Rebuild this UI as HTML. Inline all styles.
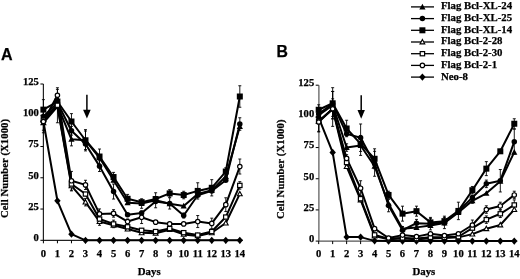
<!DOCTYPE html>
<html><head><meta charset="utf-8"><style>
html,body{margin:0;padding:0;background:#fff;}
svg{display:block;will-change:transform;}
</style></head><body>
<svg width="520" height="279" viewBox="0 0 520 279" font-family='"Liberation Serif", serif' font-weight="bold">
<style>text{stroke:#000;stroke-width:0.25px;}</style>
<rect width="520" height="279" fill="#fff"/>
<text x="1" y="60" font-family='"Liberation Sans", sans-serif' font-size="16" font-weight="bold">A</text>
<text x="276.5" y="57" font-family='"Liberation Sans", sans-serif' font-size="15.8" font-weight="bold">B</text>
<text transform="translate(8.3,218.0) rotate(-90)" font-size="10.6" textLength="99" lengthAdjust="spacing">Cell Number (X1000)</text>
<text transform="translate(284.2,219.0) rotate(-90)" font-size="10.6" textLength="99.5" lengthAdjust="spacing">Cell Number (X1000)</text>
<text x="137.8" y="275" font-size="10.8">Days</text>
<text x="412.5" y="275" font-size="10.8">Days</text>
<path d="M43.40,84.00V240.30H242.82" fill="none" stroke="#222" stroke-width="1.2"/>
<path d="M40.40,240.30H43.40" stroke="#000" stroke-width="1"/>
<text x="38.90" y="241.10" text-anchor="end" font-size="10.6">0</text>
<path d="M40.40,209.04H43.40" stroke="#000" stroke-width="1"/>
<text x="38.90" y="209.84" text-anchor="end" font-size="10.6">25</text>
<path d="M40.40,177.78H43.40" stroke="#000" stroke-width="1"/>
<text x="38.90" y="178.58" text-anchor="end" font-size="10.6">50</text>
<path d="M40.40,146.52H43.40" stroke="#000" stroke-width="1"/>
<text x="38.90" y="147.32" text-anchor="end" font-size="10.6">75</text>
<path d="M40.40,115.26H43.40" stroke="#000" stroke-width="1"/>
<text x="38.90" y="116.06" text-anchor="end" font-size="10.6">100</text>
<path d="M40.40,84.00H43.40" stroke="#000" stroke-width="1"/>
<text x="38.90" y="84.80" text-anchor="end" font-size="10.6">125</text>
<path d="M43.40,240.30V243.30" stroke="#000" stroke-width="1"/>
<text x="43.40" y="256.50" text-anchor="middle" font-size="10.6">0</text>
<path d="M57.43,240.30V243.30" stroke="#000" stroke-width="1"/>
<text x="57.43" y="256.50" text-anchor="middle" font-size="10.6">1</text>
<path d="M71.46,240.30V243.30" stroke="#000" stroke-width="1"/>
<text x="71.46" y="256.50" text-anchor="middle" font-size="10.6">2</text>
<path d="M85.49,240.30V243.30" stroke="#000" stroke-width="1"/>
<text x="85.49" y="256.50" text-anchor="middle" font-size="10.6">3</text>
<path d="M99.52,240.30V243.30" stroke="#000" stroke-width="1"/>
<text x="99.52" y="256.50" text-anchor="middle" font-size="10.6">4</text>
<path d="M113.55,240.30V243.30" stroke="#000" stroke-width="1"/>
<text x="113.55" y="256.50" text-anchor="middle" font-size="10.6">5</text>
<path d="M127.58,240.30V243.30" stroke="#000" stroke-width="1"/>
<text x="127.58" y="256.50" text-anchor="middle" font-size="10.6">6</text>
<path d="M141.61,240.30V243.30" stroke="#000" stroke-width="1"/>
<text x="141.61" y="256.50" text-anchor="middle" font-size="10.6">7</text>
<path d="M155.64,240.30V243.30" stroke="#000" stroke-width="1"/>
<text x="155.64" y="256.50" text-anchor="middle" font-size="10.6">8</text>
<path d="M169.67,240.30V243.30" stroke="#000" stroke-width="1"/>
<text x="169.67" y="256.50" text-anchor="middle" font-size="10.6">9</text>
<path d="M183.70,240.30V243.30" stroke="#000" stroke-width="1"/>
<text x="183.70" y="256.50" text-anchor="middle" font-size="10.6">10</text>
<path d="M197.73,240.30V243.30" stroke="#000" stroke-width="1"/>
<text x="197.73" y="256.50" text-anchor="middle" font-size="10.6">11</text>
<path d="M211.76,240.30V243.30" stroke="#000" stroke-width="1"/>
<text x="211.76" y="256.50" text-anchor="middle" font-size="10.6">12</text>
<path d="M225.79,240.30V243.30" stroke="#000" stroke-width="1"/>
<text x="225.79" y="256.50" text-anchor="middle" font-size="10.6">13</text>
<path d="M239.82,240.30V243.30" stroke="#000" stroke-width="1"/>
<text x="239.82" y="256.50" text-anchor="middle" font-size="10.6">14</text>
<path d="M43.40,99.63V119.64M41.90,99.63H44.90M41.90,119.64H44.90" stroke="#000" stroke-width="0.9" fill="none"/>
<path d="M43.40,109.01V124.01M41.90,109.01H44.90M41.90,124.01H44.90" stroke="#000" stroke-width="0.9" fill="none"/>
<path d="M43.40,110.26V132.77M41.90,110.26H44.90M41.90,132.77H44.90" stroke="#000" stroke-width="0.9" fill="none"/>
<path d="M43.40,110.26V130.26M41.90,110.26H44.90M41.90,130.26H44.90" stroke="#000" stroke-width="0.9" fill="none"/>
<path d="M57.43,89.38V101.13M55.93,89.38H58.93M55.93,101.13H58.93" stroke="#000" stroke-width="0.9" fill="none"/>
<path d="M57.43,87.75V122.76M55.93,87.75H58.93M55.93,122.76H58.93" stroke="#000" stroke-width="0.9" fill="none"/>
<path d="M57.43,97.75V105.26M55.93,97.75H58.93M55.93,105.26H58.93" stroke="#000" stroke-width="0.9" fill="none"/>
<path d="M71.46,113.63V129.39M69.96,113.63H72.96M69.96,129.39H72.96" stroke="#000" stroke-width="0.9" fill="none"/>
<path d="M71.46,126.39V135.14M69.96,126.39H72.96M69.96,135.14H72.96" stroke="#000" stroke-width="0.9" fill="none"/>
<path d="M71.46,132.64V145.89M69.96,132.64H72.96M69.96,145.89H72.96" stroke="#000" stroke-width="0.9" fill="none"/>
<path d="M71.46,171.40V190.16M69.96,171.40H72.96M69.96,190.16H72.96" stroke="#000" stroke-width="0.9" fill="none"/>
<path d="M71.46,180.91V190.91M69.96,180.91H72.96M69.96,190.91H72.96" stroke="#000" stroke-width="0.9" fill="none"/>
<path d="M85.49,131.02V149.52M83.99,131.02H86.99M83.99,149.52H86.99" stroke="#000" stroke-width="0.9" fill="none"/>
<path d="M85.49,129.64V150.90M83.99,129.64H86.99M83.99,150.90H86.99" stroke="#000" stroke-width="0.9" fill="none"/>
<path d="M85.49,180.28V189.53M83.99,180.28H86.99M83.99,189.53H86.99" stroke="#000" stroke-width="0.9" fill="none"/>
<path d="M85.49,198.41V205.91M83.99,198.41H86.99M83.99,205.91H86.99" stroke="#000" stroke-width="0.9" fill="none"/>
<path d="M99.52,149.02V164.03M98.02,149.02H101.02M98.02,164.03H101.02" stroke="#000" stroke-width="0.9" fill="none"/>
<path d="M99.52,160.77V171.53M98.02,160.77H101.02M98.02,171.53H101.02" stroke="#000" stroke-width="0.9" fill="none"/>
<path d="M99.52,208.91V218.92M98.02,208.91H101.02M98.02,218.92H101.02" stroke="#000" stroke-width="0.9" fill="none"/>
<path d="M99.52,217.79V225.30M98.02,217.79H101.02M98.02,225.30H101.02" stroke="#000" stroke-width="0.9" fill="none"/>
<path d="M113.55,172.40V181.66M112.05,172.40H115.05M112.05,181.66H115.05" stroke="#000" stroke-width="0.9" fill="none"/>
<path d="M113.55,184.03V199.04M112.05,184.03H115.05M112.05,199.04H115.05" stroke="#000" stroke-width="0.9" fill="none"/>
<path d="M113.55,209.67V217.17M112.05,209.67H115.05M112.05,217.17H115.05" stroke="#000" stroke-width="0.9" fill="none"/>
<path d="M113.55,220.17V227.67M112.05,220.17H115.05M112.05,227.67H115.05" stroke="#000" stroke-width="0.9" fill="none"/>
<path d="M127.58,194.41V203.16M126.08,194.41H129.08M126.08,203.16H129.08" stroke="#000" stroke-width="0.9" fill="none"/>
<path d="M127.58,219.04V224.04M126.08,219.04H129.08M126.08,224.04H129.08" stroke="#000" stroke-width="0.9" fill="none"/>
<path d="M141.61,198.79V208.29M140.11,198.79H143.11M140.11,208.29H143.11" stroke="#000" stroke-width="0.9" fill="none"/>
<path d="M141.61,211.04V223.54M140.11,211.04H143.11M140.11,223.54H143.11" stroke="#000" stroke-width="0.9" fill="none"/>
<path d="M155.64,196.54V201.54M154.14,196.54H157.14M154.14,201.54H157.14" stroke="#000" stroke-width="0.9" fill="none"/>
<path d="M155.64,192.78V207.79M154.14,192.78H157.14M154.14,207.79H157.14" stroke="#000" stroke-width="0.9" fill="none"/>
<path d="M169.67,189.66V197.16M168.17,189.66H171.17M168.17,197.16H171.17" stroke="#000" stroke-width="0.9" fill="none"/>
<path d="M169.67,197.79V209.04M168.17,197.79H171.17M168.17,209.04H171.17" stroke="#000" stroke-width="0.9" fill="none"/>
<path d="M183.70,191.28V198.79M182.20,191.28H185.20M182.20,198.79H185.20" stroke="#000" stroke-width="0.9" fill="none"/>
<path d="M183.70,213.04V218.04M182.20,213.04H185.20M182.20,218.04H185.20" stroke="#000" stroke-width="0.9" fill="none"/>
<path d="M197.73,182.78V199.04M196.23,182.78H199.23M196.23,199.04H199.23" stroke="#000" stroke-width="0.9" fill="none"/>
<path d="M197.73,215.54V227.55M196.23,215.54H199.23M196.23,227.55H199.23" stroke="#000" stroke-width="0.9" fill="none"/>
<path d="M211.76,179.66V195.91M210.26,179.66H213.26M210.26,195.91H213.26" stroke="#000" stroke-width="0.9" fill="none"/>
<path d="M211.76,218.17V228.67M210.26,218.17H213.26M210.26,228.67H213.26" stroke="#000" stroke-width="0.9" fill="none"/>
<path d="M225.79,197.79V211.54M224.29,197.79H227.29M224.29,211.54H227.29" stroke="#000" stroke-width="0.9" fill="none"/>
<path d="M225.79,167.78V175.28M224.29,167.78H227.29M224.29,175.28H227.29" stroke="#000" stroke-width="0.9" fill="none"/>
<path d="M239.82,85.75V107.26M238.32,85.75H241.32M238.32,107.26H241.32" stroke="#000" stroke-width="0.9" fill="none"/>
<path d="M239.82,117.76V130.26M238.32,117.76H241.32M238.32,130.26H241.32" stroke="#000" stroke-width="0.9" fill="none"/>
<path d="M239.82,159.02V174.03M238.32,159.02H241.32M238.32,174.03H241.32" stroke="#000" stroke-width="0.9" fill="none"/>
<path d="M239.82,181.66V189.16M238.32,181.66H241.32M238.32,189.16H241.32" stroke="#000" stroke-width="0.9" fill="none"/>
<polyline points="43.40,121.51 57.43,200.79 71.46,234.17 85.49,240.30 99.52,240.30 113.55,240.30 127.58,240.30 141.61,240.30 155.64,240.30 169.67,240.30 183.70,240.30 197.73,240.30 211.76,240.30 225.79,240.30 239.82,240.30" fill="none" stroke="#000" stroke-width="2.0" stroke-linejoin="round"/>
<polyline points="43.40,122.76 57.43,106.51 71.46,185.91 85.49,202.16 99.52,221.54 113.55,225.30 127.58,229.05 141.61,232.80 155.64,233.30 169.67,229.67 183.70,234.42 197.73,235.92 211.76,232.80 225.79,223.04 239.82,193.91" fill="none" stroke="#000" stroke-width="2.0" stroke-linejoin="round"/>
<polyline points="43.40,120.26 57.43,105.26 71.46,184.03 85.49,194.04 99.52,219.04 113.55,223.92 127.58,226.80 141.61,230.30 155.64,231.55 169.67,228.55 183.70,232.67 197.73,235.05 211.76,231.55 225.79,217.04 239.82,185.41" fill="none" stroke="#000" stroke-width="2.0" stroke-linejoin="round"/>
<polyline points="43.40,121.51 57.43,95.25 71.46,180.78 85.49,184.91 99.52,213.92 113.55,213.42 127.58,221.54 141.61,217.29 155.64,222.17 169.67,223.92 183.70,223.92 197.73,221.54 211.76,223.42 225.79,204.66 239.82,166.53" fill="none" stroke="#000" stroke-width="2.0" stroke-linejoin="round"/>
<polyline points="43.40,119.01 57.43,105.26 71.46,139.27 85.49,140.27 99.52,157.77 113.55,180.28 127.58,202.79 141.61,203.54 155.64,200.29 169.67,203.66 183.70,206.04 197.73,194.04 211.76,190.28 225.79,176.53 239.82,126.51" fill="none" stroke="#000" stroke-width="2.0" stroke-linejoin="round"/>
<polyline points="43.40,116.51 57.43,102.76 71.46,130.76 85.49,144.02 99.52,166.15 113.55,191.53 127.58,214.67 141.61,213.04 155.64,201.54 169.67,203.41 183.70,215.54 197.73,195.29 211.76,190.91 225.79,180.28 239.82,124.01" fill="none" stroke="#000" stroke-width="2.0" stroke-linejoin="round"/>
<polyline points="43.40,109.63 57.43,101.51 71.46,121.51 85.49,140.27 99.52,156.52 113.55,177.03 127.58,198.79 141.61,202.16 155.64,199.04 169.67,193.41 183.70,195.04 197.73,190.91 211.76,187.78 225.79,171.53 239.82,96.50" fill="none" stroke="#000" stroke-width="2.0" stroke-linejoin="round"/>
<path d="M43.40,117.91L46.60,121.51L43.40,125.11L40.20,121.51Z" fill="#000"/>
<path d="M57.43,197.19L60.63,200.79L57.43,204.39L54.23,200.79Z" fill="#000"/>
<path d="M71.46,230.57L74.66,234.17L71.46,237.77L68.26,234.17Z" fill="#000"/>
<path d="M85.49,236.70L88.69,240.30L85.49,243.90L82.29,240.30Z" fill="#000"/>
<path d="M99.52,236.70L102.72,240.30L99.52,243.90L96.32,240.30Z" fill="#000"/>
<path d="M113.55,236.70L116.75,240.30L113.55,243.90L110.35,240.30Z" fill="#000"/>
<path d="M127.58,236.70L130.78,240.30L127.58,243.90L124.38,240.30Z" fill="#000"/>
<path d="M141.61,236.70L144.81,240.30L141.61,243.90L138.41,240.30Z" fill="#000"/>
<path d="M155.64,236.70L158.84,240.30L155.64,243.90L152.44,240.30Z" fill="#000"/>
<path d="M169.67,236.70L172.87,240.30L169.67,243.90L166.47,240.30Z" fill="#000"/>
<path d="M183.70,236.70L186.90,240.30L183.70,243.90L180.50,240.30Z" fill="#000"/>
<path d="M197.73,236.70L200.93,240.30L197.73,243.90L194.53,240.30Z" fill="#000"/>
<path d="M211.76,236.70L214.96,240.30L211.76,243.90L208.56,240.30Z" fill="#000"/>
<path d="M225.79,236.70L228.99,240.30L225.79,243.90L222.59,240.30Z" fill="#000"/>
<path d="M239.82,236.70L243.02,240.30L239.82,243.90L236.62,240.30Z" fill="#000"/>
<path d="M43.40,115.81L46.50,121.51L40.30,121.51Z" fill="#000"/>
<path d="M57.43,102.06L60.53,107.76L54.33,107.76Z" fill="#000"/>
<path d="M71.46,136.07L74.56,141.77L68.36,141.77Z" fill="#000"/>
<path d="M85.49,137.07L88.59,142.77L82.39,142.77Z" fill="#000"/>
<path d="M99.52,154.57L102.62,160.27L96.42,160.27Z" fill="#000"/>
<path d="M113.55,177.08L116.65,182.78L110.45,182.78Z" fill="#000"/>
<path d="M127.58,199.59L130.68,205.29L124.48,205.29Z" fill="#000"/>
<path d="M141.61,200.34L144.71,206.04L138.51,206.04Z" fill="#000"/>
<path d="M155.64,197.09L158.74,202.79L152.54,202.79Z" fill="#000"/>
<path d="M169.67,200.46L172.77,206.16L166.57,206.16Z" fill="#000"/>
<path d="M183.70,202.84L186.80,208.54L180.60,208.54Z" fill="#000"/>
<path d="M197.73,190.84L200.83,196.54L194.63,196.54Z" fill="#000"/>
<path d="M211.76,187.08L214.86,192.78L208.66,192.78Z" fill="#000"/>
<path d="M225.79,173.33L228.89,179.03L222.69,179.03Z" fill="#000"/>
<path d="M239.82,123.31L242.92,129.01L236.72,129.01Z" fill="#000"/>
<circle cx="43.40" cy="116.51" r="2.75" fill="#000"/>
<circle cx="57.43" cy="102.76" r="2.75" fill="#000"/>
<circle cx="71.46" cy="130.76" r="2.75" fill="#000"/>
<circle cx="85.49" cy="144.02" r="2.75" fill="#000"/>
<circle cx="99.52" cy="166.15" r="2.75" fill="#000"/>
<circle cx="113.55" cy="191.53" r="2.75" fill="#000"/>
<circle cx="127.58" cy="214.67" r="2.75" fill="#000"/>
<circle cx="141.61" cy="213.04" r="2.75" fill="#000"/>
<circle cx="155.64" cy="201.54" r="2.75" fill="#000"/>
<circle cx="169.67" cy="203.41" r="2.75" fill="#000"/>
<circle cx="183.70" cy="215.54" r="2.75" fill="#000"/>
<circle cx="197.73" cy="195.29" r="2.75" fill="#000"/>
<circle cx="211.76" cy="190.91" r="2.75" fill="#000"/>
<circle cx="225.79" cy="180.28" r="2.75" fill="#000"/>
<circle cx="239.82" cy="124.01" r="2.75" fill="#000"/>
<rect x="40.40" y="106.63" width="6" height="6" fill="#000"/>
<rect x="54.43" y="98.51" width="6" height="6" fill="#000"/>
<rect x="68.46" y="118.51" width="6" height="6" fill="#000"/>
<rect x="82.49" y="137.27" width="6" height="6" fill="#000"/>
<rect x="96.52" y="153.52" width="6" height="6" fill="#000"/>
<rect x="110.55" y="174.03" width="6" height="6" fill="#000"/>
<rect x="124.58" y="195.79" width="6" height="6" fill="#000"/>
<rect x="138.61" y="199.16" width="6" height="6" fill="#000"/>
<rect x="152.64" y="196.04" width="6" height="6" fill="#000"/>
<rect x="166.67" y="190.41" width="6" height="6" fill="#000"/>
<rect x="180.70" y="192.04" width="6" height="6" fill="#000"/>
<rect x="194.73" y="187.91" width="6" height="6" fill="#000"/>
<rect x="208.76" y="184.78" width="6" height="6" fill="#000"/>
<rect x="222.79" y="168.53" width="6" height="6" fill="#000"/>
<rect x="236.82" y="93.50" width="6" height="6" fill="#000"/>
<path d="M43.40,120.26L45.80,124.66L41.00,124.66Z" fill="#fff" stroke="#000" stroke-width="1.1" stroke-linejoin="miter"/>
<path d="M57.43,104.01L59.83,108.41L55.03,108.41Z" fill="#fff" stroke="#000" stroke-width="1.1" stroke-linejoin="miter"/>
<path d="M71.46,183.41L73.86,187.81L69.06,187.81Z" fill="#fff" stroke="#000" stroke-width="1.1" stroke-linejoin="miter"/>
<path d="M85.49,199.66L87.89,204.06L83.09,204.06Z" fill="#fff" stroke="#000" stroke-width="1.1" stroke-linejoin="miter"/>
<path d="M99.52,219.04L101.92,223.44L97.12,223.44Z" fill="#fff" stroke="#000" stroke-width="1.1" stroke-linejoin="miter"/>
<path d="M113.55,222.80L115.95,227.20L111.15,227.20Z" fill="#fff" stroke="#000" stroke-width="1.1" stroke-linejoin="miter"/>
<path d="M127.58,226.55L129.98,230.95L125.18,230.95Z" fill="#fff" stroke="#000" stroke-width="1.1" stroke-linejoin="miter"/>
<path d="M141.61,230.30L144.01,234.70L139.21,234.70Z" fill="#fff" stroke="#000" stroke-width="1.1" stroke-linejoin="miter"/>
<path d="M155.64,230.80L158.04,235.20L153.24,235.20Z" fill="#fff" stroke="#000" stroke-width="1.1" stroke-linejoin="miter"/>
<path d="M169.67,227.17L172.07,231.57L167.27,231.57Z" fill="#fff" stroke="#000" stroke-width="1.1" stroke-linejoin="miter"/>
<path d="M183.70,231.92L186.10,236.32L181.30,236.32Z" fill="#fff" stroke="#000" stroke-width="1.1" stroke-linejoin="miter"/>
<path d="M197.73,233.42L200.13,237.82L195.33,237.82Z" fill="#fff" stroke="#000" stroke-width="1.1" stroke-linejoin="miter"/>
<path d="M211.76,230.30L214.16,234.70L209.36,234.70Z" fill="#fff" stroke="#000" stroke-width="1.1" stroke-linejoin="miter"/>
<path d="M225.79,220.54L228.19,224.94L223.39,224.94Z" fill="#fff" stroke="#000" stroke-width="1.1" stroke-linejoin="miter"/>
<path d="M239.82,191.41L242.22,195.81L237.42,195.81Z" fill="#fff" stroke="#000" stroke-width="1.1" stroke-linejoin="miter"/>
<rect x="41.20" y="118.16" width="4.4" height="4.2" fill="#fff" stroke="#000" stroke-width="1.2"/>
<rect x="55.23" y="103.16" width="4.4" height="4.2" fill="#fff" stroke="#000" stroke-width="1.2"/>
<rect x="69.26" y="181.93" width="4.4" height="4.2" fill="#fff" stroke="#000" stroke-width="1.2"/>
<rect x="83.29" y="191.94" width="4.4" height="4.2" fill="#fff" stroke="#000" stroke-width="1.2"/>
<rect x="97.32" y="216.94" width="4.4" height="4.2" fill="#fff" stroke="#000" stroke-width="1.2"/>
<rect x="111.35" y="221.82" width="4.4" height="4.2" fill="#fff" stroke="#000" stroke-width="1.2"/>
<rect x="125.38" y="224.70" width="4.4" height="4.2" fill="#fff" stroke="#000" stroke-width="1.2"/>
<rect x="139.41" y="228.20" width="4.4" height="4.2" fill="#fff" stroke="#000" stroke-width="1.2"/>
<rect x="153.44" y="229.45" width="4.4" height="4.2" fill="#fff" stroke="#000" stroke-width="1.2"/>
<rect x="167.47" y="226.45" width="4.4" height="4.2" fill="#fff" stroke="#000" stroke-width="1.2"/>
<rect x="181.50" y="230.57" width="4.4" height="4.2" fill="#fff" stroke="#000" stroke-width="1.2"/>
<rect x="195.53" y="232.95" width="4.4" height="4.2" fill="#fff" stroke="#000" stroke-width="1.2"/>
<rect x="209.56" y="229.45" width="4.4" height="4.2" fill="#fff" stroke="#000" stroke-width="1.2"/>
<rect x="223.59" y="214.94" width="4.4" height="4.2" fill="#fff" stroke="#000" stroke-width="1.2"/>
<rect x="237.62" y="183.31" width="4.4" height="4.2" fill="#fff" stroke="#000" stroke-width="1.2"/>
<circle cx="43.40" cy="121.51" r="2.2" fill="#fff" stroke="#000" stroke-width="1.2"/>
<circle cx="57.43" cy="95.25" r="2.2" fill="#fff" stroke="#000" stroke-width="1.2"/>
<circle cx="71.46" cy="180.78" r="2.2" fill="#fff" stroke="#000" stroke-width="1.2"/>
<circle cx="85.49" cy="184.91" r="2.2" fill="#fff" stroke="#000" stroke-width="1.2"/>
<circle cx="99.52" cy="213.92" r="2.2" fill="#fff" stroke="#000" stroke-width="1.2"/>
<circle cx="113.55" cy="213.42" r="2.2" fill="#fff" stroke="#000" stroke-width="1.2"/>
<circle cx="127.58" cy="221.54" r="2.2" fill="#fff" stroke="#000" stroke-width="1.2"/>
<circle cx="141.61" cy="217.29" r="2.2" fill="#fff" stroke="#000" stroke-width="1.2"/>
<circle cx="155.64" cy="222.17" r="2.2" fill="#fff" stroke="#000" stroke-width="1.2"/>
<circle cx="169.67" cy="223.92" r="2.2" fill="#fff" stroke="#000" stroke-width="1.2"/>
<circle cx="183.70" cy="223.92" r="2.2" fill="#fff" stroke="#000" stroke-width="1.2"/>
<circle cx="197.73" cy="221.54" r="2.2" fill="#fff" stroke="#000" stroke-width="1.2"/>
<circle cx="211.76" cy="223.42" r="2.2" fill="#fff" stroke="#000" stroke-width="1.2"/>
<circle cx="225.79" cy="204.66" r="2.2" fill="#fff" stroke="#000" stroke-width="1.2"/>
<circle cx="239.82" cy="166.53" r="2.2" fill="#fff" stroke="#000" stroke-width="1.2"/>
<path d="M318.90,85.20V241.10H517.28" fill="none" stroke="#555" stroke-width="1.2"/>
<path d="M315.70,241.10H318.70" stroke="#000" stroke-width="1"/>
<text x="314.20" y="241.90" text-anchor="end" font-size="10.6">0</text>
<path d="M315.70,209.92H318.70" stroke="#000" stroke-width="1"/>
<text x="314.20" y="210.72" text-anchor="end" font-size="10.6">25</text>
<path d="M315.70,178.74H318.70" stroke="#000" stroke-width="1"/>
<text x="314.20" y="179.54" text-anchor="end" font-size="10.6">50</text>
<path d="M315.70,147.56H318.70" stroke="#000" stroke-width="1"/>
<text x="314.20" y="148.36" text-anchor="end" font-size="10.6">75</text>
<path d="M315.70,116.38H318.70" stroke="#000" stroke-width="1"/>
<text x="314.20" y="117.18" text-anchor="end" font-size="10.6">100</text>
<path d="M315.70,85.20H318.70" stroke="#000" stroke-width="1"/>
<text x="314.20" y="86.00" text-anchor="end" font-size="10.6">125</text>
<path d="M318.70,241.10V244.10" stroke="#000" stroke-width="1"/>
<text x="318.70" y="257.30" text-anchor="middle" font-size="10.6">0</text>
<path d="M332.67,241.10V244.10" stroke="#000" stroke-width="1"/>
<text x="332.67" y="257.30" text-anchor="middle" font-size="10.6">1</text>
<path d="M346.64,241.10V244.10" stroke="#000" stroke-width="1"/>
<text x="346.64" y="257.30" text-anchor="middle" font-size="10.6">2</text>
<path d="M360.61,241.10V244.10" stroke="#000" stroke-width="1"/>
<text x="360.61" y="257.30" text-anchor="middle" font-size="10.6">3</text>
<path d="M374.58,241.10V244.10" stroke="#000" stroke-width="1"/>
<text x="374.58" y="257.30" text-anchor="middle" font-size="10.6">4</text>
<path d="M388.55,241.10V244.10" stroke="#000" stroke-width="1"/>
<text x="388.55" y="257.30" text-anchor="middle" font-size="10.6">5</text>
<path d="M402.52,241.10V244.10" stroke="#000" stroke-width="1"/>
<text x="402.52" y="257.30" text-anchor="middle" font-size="10.6">6</text>
<path d="M416.49,241.10V244.10" stroke="#000" stroke-width="1"/>
<text x="416.49" y="257.30" text-anchor="middle" font-size="10.6">7</text>
<path d="M430.46,241.10V244.10" stroke="#000" stroke-width="1"/>
<text x="430.46" y="257.30" text-anchor="middle" font-size="10.6">8</text>
<path d="M444.43,241.10V244.10" stroke="#000" stroke-width="1"/>
<text x="444.43" y="257.30" text-anchor="middle" font-size="10.6">9</text>
<path d="M458.40,241.10V244.10" stroke="#000" stroke-width="1"/>
<text x="458.40" y="257.30" text-anchor="middle" font-size="10.6">10</text>
<path d="M472.37,241.10V244.10" stroke="#000" stroke-width="1"/>
<text x="472.37" y="257.30" text-anchor="middle" font-size="10.6">11</text>
<path d="M486.34,241.10V244.10" stroke="#000" stroke-width="1"/>
<text x="486.34" y="257.30" text-anchor="middle" font-size="10.6">12</text>
<path d="M500.31,241.10V244.10" stroke="#000" stroke-width="1"/>
<text x="500.31" y="257.30" text-anchor="middle" font-size="10.6">13</text>
<path d="M514.28,241.10V244.10" stroke="#000" stroke-width="1"/>
<text x="514.28" y="257.30" text-anchor="middle" font-size="10.6">14</text>
<path d="M318.70,104.78V114.76M317.20,104.78H320.20M317.20,114.76H320.20" stroke="#000" stroke-width="0.9" fill="none"/>
<path d="M318.70,107.65V120.12M317.20,107.65H320.20M317.20,120.12H320.20" stroke="#000" stroke-width="0.9" fill="none"/>
<path d="M318.70,112.01V131.97M317.20,112.01H320.20M317.20,131.97H320.20" stroke="#000" stroke-width="0.9" fill="none"/>
<path d="M318.70,111.39V131.35M317.20,111.39H320.20M317.20,131.35H320.20" stroke="#000" stroke-width="0.9" fill="none"/>
<path d="M332.67,87.69V118.87M331.17,87.69H334.17M331.17,118.87H334.17" stroke="#000" stroke-width="0.9" fill="none"/>
<path d="M332.67,91.44V116.38M331.17,91.44H334.17M331.17,116.38H334.17" stroke="#000" stroke-width="0.9" fill="none"/>
<path d="M332.67,98.79V118.75M331.17,98.79H334.17M331.17,118.75H334.17" stroke="#000" stroke-width="0.9" fill="none"/>
<path d="M332.67,91.44V126.36M331.17,91.44H334.17M331.17,126.36H334.17" stroke="#000" stroke-width="0.9" fill="none"/>
<path d="M346.64,120.25V136.71M345.14,120.25H348.14M345.14,136.71H348.14" stroke="#000" stroke-width="0.9" fill="none"/>
<path d="M346.64,154.67V162.15M345.14,154.67H348.14M345.14,162.15H348.14" stroke="#000" stroke-width="0.9" fill="none"/>
<path d="M346.64,143.82V151.30M345.14,143.82H348.14M345.14,151.30H348.14" stroke="#000" stroke-width="0.9" fill="none"/>
<path d="M360.61,123.99V151.43M359.11,123.99H362.11M359.11,151.43H362.11" stroke="#000" stroke-width="0.9" fill="none"/>
<path d="M360.61,135.46V155.42M359.11,135.46H362.11M359.11,155.42H362.11" stroke="#000" stroke-width="0.9" fill="none"/>
<path d="M360.61,180.74V195.70M359.11,180.74H362.11M359.11,195.70H362.11" stroke="#000" stroke-width="0.9" fill="none"/>
<path d="M374.58,148.81V168.76M373.08,148.81H376.08M373.08,168.76H376.08" stroke="#000" stroke-width="0.9" fill="none"/>
<path d="M374.58,151.30V176.25M373.08,151.30H376.08M373.08,176.25H376.08" stroke="#000" stroke-width="0.9" fill="none"/>
<path d="M388.55,191.21V198.70M387.05,191.21H390.05M387.05,198.70H390.05" stroke="#000" stroke-width="0.9" fill="none"/>
<path d="M388.55,199.32V211.79M387.05,199.32H390.05M387.05,211.79H390.05" stroke="#000" stroke-width="0.9" fill="none"/>
<path d="M402.52,206.18V221.14M401.02,206.18H404.02M401.02,221.14H404.02" stroke="#000" stroke-width="0.9" fill="none"/>
<path d="M402.52,226.51V233.99M401.02,226.51H404.02M401.02,233.99H404.02" stroke="#000" stroke-width="0.9" fill="none"/>
<path d="M416.49,206.18V216.16M414.99,206.18H417.99M414.99,216.16H417.99" stroke="#000" stroke-width="0.9" fill="none"/>
<path d="M416.49,219.40V226.88M414.99,219.40H417.99M414.99,226.88H417.99" stroke="#000" stroke-width="0.9" fill="none"/>
<path d="M430.46,218.65V226.13M428.96,218.65H431.96M428.96,226.13H431.96" stroke="#000" stroke-width="0.9" fill="none"/>
<path d="M430.46,217.40V229.88M428.96,217.40H431.96M428.96,229.88H431.96" stroke="#000" stroke-width="0.9" fill="none"/>
<path d="M444.43,216.16V228.63M442.93,216.16H445.93M442.93,228.63H445.93" stroke="#000" stroke-width="0.9" fill="none"/>
<path d="M444.43,217.40V224.89M442.93,217.40H445.93M442.93,224.89H445.93" stroke="#000" stroke-width="0.9" fill="none"/>
<path d="M458.40,202.19V219.65M456.90,202.19H459.90M456.90,219.65H459.90" stroke="#000" stroke-width="0.9" fill="none"/>
<path d="M472.37,186.47V193.96M470.87,186.47H473.87M470.87,193.96H473.87" stroke="#000" stroke-width="0.9" fill="none"/>
<path d="M472.37,198.32V203.31M470.87,198.32H473.87M470.87,203.31H473.87" stroke="#000" stroke-width="0.9" fill="none"/>
<path d="M486.34,161.65V175.62M484.84,161.65H487.84M484.84,175.62H487.84" stroke="#000" stroke-width="0.9" fill="none"/>
<path d="M486.34,180.11V187.60M484.84,180.11H487.84M484.84,187.60H487.84" stroke="#000" stroke-width="0.9" fill="none"/>
<path d="M500.31,169.51V191.96M498.81,169.51H501.81M498.81,191.96H501.81" stroke="#000" stroke-width="0.9" fill="none"/>
<path d="M500.31,210.04V217.53M498.81,210.04H501.81M498.81,217.53H501.81" stroke="#000" stroke-width="0.9" fill="none"/>
<path d="M500.31,202.19V209.67M498.81,202.19H501.81M498.81,209.67H501.81" stroke="#000" stroke-width="0.9" fill="none"/>
<path d="M472.37,220.02V230.00M470.87,220.02H473.87M470.87,230.00H473.87" stroke="#000" stroke-width="0.9" fill="none"/>
<path d="M486.34,215.91V223.39M484.84,215.91H487.84M484.84,223.39H487.84" stroke="#000" stroke-width="0.9" fill="none"/>
<path d="M486.34,205.80V213.29M484.84,205.80H487.84M484.84,213.29H487.84" stroke="#000" stroke-width="0.9" fill="none"/>
<path d="M514.28,118.75V128.73M512.78,118.75H515.78M512.78,128.73H515.78" stroke="#000" stroke-width="0.9" fill="none"/>
<path d="M514.28,129.23V154.17M512.78,129.23H515.78M512.78,154.17H515.78" stroke="#000" stroke-width="0.9" fill="none"/>
<path d="M514.28,191.21V198.70M512.78,191.21H515.78M512.78,198.70H515.78" stroke="#000" stroke-width="0.9" fill="none"/>
<path d="M514.28,199.94V209.92M512.78,199.94H515.78M512.78,209.92H515.78" stroke="#000" stroke-width="0.9" fill="none"/>
<polyline points="318.70,117.63 332.67,152.42 346.64,237.11 360.61,237.11 374.58,240.85 388.55,241.10 402.52,241.10 416.49,241.10 430.46,241.10 444.43,241.10 458.40,241.10 472.37,241.10 486.34,241.10 500.31,241.10 514.28,241.10" fill="none" stroke="#000" stroke-width="2.0" stroke-linejoin="round"/>
<polyline points="318.70,121.37 332.67,108.90 346.64,166.64 360.61,199.94 374.58,236.11 388.55,239.23 402.52,238.61 416.49,239.23 430.46,238.61 444.43,237.98 458.40,237.36 472.37,234.12 486.34,228.75 500.31,225.01 514.28,209.55" fill="none" stroke="#000" stroke-width="2.0" stroke-linejoin="round"/>
<polyline points="318.70,121.37 332.67,108.90 346.64,162.53 360.61,198.70 374.58,234.86 388.55,238.61 402.52,237.98 416.49,238.61 430.46,237.36 444.43,237.36 458.40,236.73 472.37,228.13 486.34,219.65 500.31,213.79 514.28,204.93" fill="none" stroke="#000" stroke-width="2.0" stroke-linejoin="round"/>
<polyline points="318.70,121.99 332.67,108.77 346.64,158.41 360.61,188.22 374.58,228.63 388.55,237.98 402.52,235.11 416.49,236.61 430.46,233.74 444.43,235.61 458.40,233.74 472.37,225.01 486.34,209.55 500.31,205.93 514.28,194.95" fill="none" stroke="#000" stroke-width="2.0" stroke-linejoin="round"/>
<polyline points="318.70,115.13 332.67,105.16 346.64,147.56 360.61,145.44 374.58,166.27 388.55,203.68 402.52,228.63 416.49,227.38 430.46,225.51 444.43,223.02 458.40,212.41 472.37,200.82 486.34,193.33 500.31,181.23 514.28,152.17" fill="none" stroke="#000" stroke-width="2.0" stroke-linejoin="round"/>
<polyline points="318.70,113.89 332.67,103.91 346.64,133.84 360.61,137.71 374.58,163.77 388.55,205.55 402.52,230.25 416.49,223.14 430.46,223.64 444.43,222.39 458.40,211.17 472.37,197.45 486.34,183.85 500.31,180.74 514.28,141.70" fill="none" stroke="#000" stroke-width="2.0" stroke-linejoin="round"/>
<polyline points="318.70,109.77 332.67,103.28 346.64,128.48 360.61,143.82 374.58,158.78 388.55,194.95 402.52,213.66 416.49,211.17 430.46,222.39 444.43,221.14 458.40,210.92 472.37,190.21 486.34,168.64 500.31,151.30 514.28,123.74" fill="none" stroke="#000" stroke-width="2.0" stroke-linejoin="round"/>
<path d="M318.70,114.03L321.90,117.63L318.70,121.23L315.50,117.63Z" fill="#000"/>
<path d="M332.67,148.82L335.87,152.42L332.67,156.02L329.47,152.42Z" fill="#000"/>
<path d="M346.64,233.51L349.84,237.11L346.64,240.71L343.44,237.11Z" fill="#000"/>
<path d="M360.61,233.51L363.81,237.11L360.61,240.71L357.41,237.11Z" fill="#000"/>
<path d="M374.58,237.25L377.78,240.85L374.58,244.45L371.38,240.85Z" fill="#000"/>
<path d="M388.55,237.50L391.75,241.10L388.55,244.70L385.35,241.10Z" fill="#000"/>
<path d="M402.52,237.50L405.72,241.10L402.52,244.70L399.32,241.10Z" fill="#000"/>
<path d="M416.49,237.50L419.69,241.10L416.49,244.70L413.29,241.10Z" fill="#000"/>
<path d="M430.46,237.50L433.66,241.10L430.46,244.70L427.26,241.10Z" fill="#000"/>
<path d="M444.43,237.50L447.63,241.10L444.43,244.70L441.23,241.10Z" fill="#000"/>
<path d="M458.40,237.50L461.60,241.10L458.40,244.70L455.20,241.10Z" fill="#000"/>
<path d="M472.37,237.50L475.57,241.10L472.37,244.70L469.17,241.10Z" fill="#000"/>
<path d="M486.34,237.50L489.54,241.10L486.34,244.70L483.14,241.10Z" fill="#000"/>
<path d="M500.31,237.50L503.51,241.10L500.31,244.70L497.11,241.10Z" fill="#000"/>
<path d="M514.28,237.50L517.48,241.10L514.28,244.70L511.08,241.10Z" fill="#000"/>
<path d="M318.70,111.93L321.80,117.63L315.60,117.63Z" fill="#000"/>
<path d="M332.67,101.96L335.77,107.66L329.57,107.66Z" fill="#000"/>
<path d="M346.64,144.36L349.74,150.06L343.54,150.06Z" fill="#000"/>
<path d="M360.61,142.24L363.71,147.94L357.51,147.94Z" fill="#000"/>
<path d="M374.58,163.07L377.68,168.77L371.48,168.77Z" fill="#000"/>
<path d="M388.55,200.48L391.65,206.18L385.45,206.18Z" fill="#000"/>
<path d="M402.52,225.43L405.62,231.13L399.42,231.13Z" fill="#000"/>
<path d="M416.49,224.18L419.59,229.88L413.39,229.88Z" fill="#000"/>
<path d="M430.46,222.31L433.56,228.01L427.36,228.01Z" fill="#000"/>
<path d="M444.43,219.82L447.53,225.52L441.33,225.52Z" fill="#000"/>
<path d="M458.40,209.21L461.50,214.91L455.30,214.91Z" fill="#000"/>
<path d="M472.37,197.62L475.47,203.32L469.27,203.32Z" fill="#000"/>
<path d="M486.34,190.13L489.44,195.83L483.24,195.83Z" fill="#000"/>
<path d="M500.31,178.03L503.41,183.73L497.21,183.73Z" fill="#000"/>
<path d="M514.28,148.97L517.38,154.67L511.18,154.67Z" fill="#000"/>
<circle cx="318.70" cy="113.89" r="2.75" fill="#000"/>
<circle cx="332.67" cy="103.91" r="2.75" fill="#000"/>
<circle cx="346.64" cy="133.84" r="2.75" fill="#000"/>
<circle cx="360.61" cy="137.71" r="2.75" fill="#000"/>
<circle cx="374.58" cy="163.77" r="2.75" fill="#000"/>
<circle cx="388.55" cy="205.55" r="2.75" fill="#000"/>
<circle cx="402.52" cy="230.25" r="2.75" fill="#000"/>
<circle cx="416.49" cy="223.14" r="2.75" fill="#000"/>
<circle cx="430.46" cy="223.64" r="2.75" fill="#000"/>
<circle cx="444.43" cy="222.39" r="2.75" fill="#000"/>
<circle cx="458.40" cy="211.17" r="2.75" fill="#000"/>
<circle cx="472.37" cy="197.45" r="2.75" fill="#000"/>
<circle cx="486.34" cy="183.85" r="2.75" fill="#000"/>
<circle cx="500.31" cy="180.74" r="2.75" fill="#000"/>
<circle cx="514.28" cy="141.70" r="2.75" fill="#000"/>
<rect x="315.70" y="106.77" width="6" height="6" fill="#000"/>
<rect x="329.67" y="100.28" width="6" height="6" fill="#000"/>
<rect x="343.64" y="125.48" width="6" height="6" fill="#000"/>
<rect x="357.61" y="140.82" width="6" height="6" fill="#000"/>
<rect x="371.58" y="155.78" width="6" height="6" fill="#000"/>
<rect x="385.55" y="191.95" width="6" height="6" fill="#000"/>
<rect x="399.52" y="210.66" width="6" height="6" fill="#000"/>
<rect x="413.49" y="208.17" width="6" height="6" fill="#000"/>
<rect x="427.46" y="219.39" width="6" height="6" fill="#000"/>
<rect x="441.43" y="218.14" width="6" height="6" fill="#000"/>
<rect x="455.40" y="207.92" width="6" height="6" fill="#000"/>
<rect x="469.37" y="187.21" width="6" height="6" fill="#000"/>
<rect x="483.34" y="165.64" width="6" height="6" fill="#000"/>
<rect x="497.31" y="148.30" width="6" height="6" fill="#000"/>
<rect x="511.28" y="120.74" width="6" height="6" fill="#000"/>
<path d="M318.70,118.87L321.10,123.27L316.30,123.27Z" fill="#fff" stroke="#000" stroke-width="1.1" stroke-linejoin="miter"/>
<path d="M332.67,106.40L335.07,110.80L330.27,110.80Z" fill="#fff" stroke="#000" stroke-width="1.1" stroke-linejoin="miter"/>
<path d="M346.64,164.14L349.04,168.54L344.24,168.54Z" fill="#fff" stroke="#000" stroke-width="1.1" stroke-linejoin="miter"/>
<path d="M360.61,197.44L363.01,201.84L358.21,201.84Z" fill="#fff" stroke="#000" stroke-width="1.1" stroke-linejoin="miter"/>
<path d="M374.58,233.61L376.98,238.01L372.18,238.01Z" fill="#fff" stroke="#000" stroke-width="1.1" stroke-linejoin="miter"/>
<path d="M388.55,236.73L390.95,241.13L386.15,241.13Z" fill="#fff" stroke="#000" stroke-width="1.1" stroke-linejoin="miter"/>
<path d="M402.52,236.11L404.92,240.51L400.12,240.51Z" fill="#fff" stroke="#000" stroke-width="1.1" stroke-linejoin="miter"/>
<path d="M416.49,236.73L418.89,241.13L414.09,241.13Z" fill="#fff" stroke="#000" stroke-width="1.1" stroke-linejoin="miter"/>
<path d="M430.46,236.11L432.86,240.51L428.06,240.51Z" fill="#fff" stroke="#000" stroke-width="1.1" stroke-linejoin="miter"/>
<path d="M444.43,235.48L446.83,239.88L442.03,239.88Z" fill="#fff" stroke="#000" stroke-width="1.1" stroke-linejoin="miter"/>
<path d="M458.40,234.86L460.80,239.26L456.00,239.26Z" fill="#fff" stroke="#000" stroke-width="1.1" stroke-linejoin="miter"/>
<path d="M472.37,231.62L474.77,236.02L469.97,236.02Z" fill="#fff" stroke="#000" stroke-width="1.1" stroke-linejoin="miter"/>
<path d="M486.34,226.25L488.74,230.65L483.94,230.65Z" fill="#fff" stroke="#000" stroke-width="1.1" stroke-linejoin="miter"/>
<path d="M500.31,222.51L502.71,226.91L497.91,226.91Z" fill="#fff" stroke="#000" stroke-width="1.1" stroke-linejoin="miter"/>
<path d="M514.28,207.05L516.68,211.45L511.88,211.45Z" fill="#fff" stroke="#000" stroke-width="1.1" stroke-linejoin="miter"/>
<rect x="316.50" y="119.27" width="4.4" height="4.2" fill="#fff" stroke="#000" stroke-width="1.2"/>
<rect x="330.47" y="106.80" width="4.4" height="4.2" fill="#fff" stroke="#000" stroke-width="1.2"/>
<rect x="344.44" y="160.43" width="4.4" height="4.2" fill="#fff" stroke="#000" stroke-width="1.2"/>
<rect x="358.41" y="196.60" width="4.4" height="4.2" fill="#fff" stroke="#000" stroke-width="1.2"/>
<rect x="372.38" y="232.76" width="4.4" height="4.2" fill="#fff" stroke="#000" stroke-width="1.2"/>
<rect x="386.35" y="236.51" width="4.4" height="4.2" fill="#fff" stroke="#000" stroke-width="1.2"/>
<rect x="400.32" y="235.88" width="4.4" height="4.2" fill="#fff" stroke="#000" stroke-width="1.2"/>
<rect x="414.29" y="236.51" width="4.4" height="4.2" fill="#fff" stroke="#000" stroke-width="1.2"/>
<rect x="428.26" y="235.26" width="4.4" height="4.2" fill="#fff" stroke="#000" stroke-width="1.2"/>
<rect x="442.23" y="235.26" width="4.4" height="4.2" fill="#fff" stroke="#000" stroke-width="1.2"/>
<rect x="456.20" y="234.63" width="4.4" height="4.2" fill="#fff" stroke="#000" stroke-width="1.2"/>
<rect x="470.17" y="226.03" width="4.4" height="4.2" fill="#fff" stroke="#000" stroke-width="1.2"/>
<rect x="484.14" y="217.55" width="4.4" height="4.2" fill="#fff" stroke="#000" stroke-width="1.2"/>
<rect x="498.11" y="211.69" width="4.4" height="4.2" fill="#fff" stroke="#000" stroke-width="1.2"/>
<rect x="512.08" y="202.83" width="4.4" height="4.2" fill="#fff" stroke="#000" stroke-width="1.2"/>
<circle cx="318.70" cy="121.99" r="2.2" fill="#fff" stroke="#000" stroke-width="1.2"/>
<circle cx="332.67" cy="108.77" r="2.2" fill="#fff" stroke="#000" stroke-width="1.2"/>
<circle cx="346.64" cy="158.41" r="2.2" fill="#fff" stroke="#000" stroke-width="1.2"/>
<circle cx="360.61" cy="188.22" r="2.2" fill="#fff" stroke="#000" stroke-width="1.2"/>
<circle cx="374.58" cy="228.63" r="2.2" fill="#fff" stroke="#000" stroke-width="1.2"/>
<circle cx="388.55" cy="237.98" r="2.2" fill="#fff" stroke="#000" stroke-width="1.2"/>
<circle cx="402.52" cy="235.11" r="2.2" fill="#fff" stroke="#000" stroke-width="1.2"/>
<circle cx="416.49" cy="236.61" r="2.2" fill="#fff" stroke="#000" stroke-width="1.2"/>
<circle cx="430.46" cy="233.74" r="2.2" fill="#fff" stroke="#000" stroke-width="1.2"/>
<circle cx="444.43" cy="235.61" r="2.2" fill="#fff" stroke="#000" stroke-width="1.2"/>
<circle cx="458.40" cy="233.74" r="2.2" fill="#fff" stroke="#000" stroke-width="1.2"/>
<circle cx="472.37" cy="225.01" r="2.2" fill="#fff" stroke="#000" stroke-width="1.2"/>
<circle cx="486.34" cy="209.55" r="2.2" fill="#fff" stroke="#000" stroke-width="1.2"/>
<circle cx="500.31" cy="205.93" r="2.2" fill="#fff" stroke="#000" stroke-width="1.2"/>
<circle cx="514.28" cy="194.95" r="2.2" fill="#fff" stroke="#000" stroke-width="1.2"/>
<path d="M86.90,94.80V110.80" stroke="#000" stroke-width="1.5"/><path d="M83.10,109.80L90.70,109.80L86.90,118.50Z" fill="#000"/>
<path d="M361.20,95.20V111.10" stroke="#000" stroke-width="1.5"/><path d="M357.50,110.10L364.90,110.10L361.20,118.70Z" fill="#000"/>
<path d="M411,6.90H434" stroke="#000" stroke-width="1.3"/>
<path d="M422.40,3.70L425.50,9.40L419.30,9.40Z" fill="#000"/>
<text x="441" y="9.30" font-size="10.8">Flag Bcl-XL-24</text>
<path d="M411,18.60H434" stroke="#000" stroke-width="1.3"/>
<circle cx="422.40" cy="18.60" r="2.75" fill="#000"/>
<text x="441" y="21.00" font-size="10.8">Flag Bcl-XL-25</text>
<path d="M411,30.30H434" stroke="#000" stroke-width="1.3"/>
<rect x="419.40" y="27.30" width="6" height="6" fill="#000"/>
<text x="441" y="32.70" font-size="10.8">Flag Bcl-XL-14</text>
<path d="M411,42.00H434" stroke="#000" stroke-width="1.3"/>
<path d="M422.40,39.50L424.80,43.90L420.00,43.90Z" fill="#fff" stroke="#000" stroke-width="1.1" stroke-linejoin="miter"/>
<text x="441" y="44.40" font-size="10.8">Flag Bcl-2-28</text>
<path d="M411,53.70H434" stroke="#000" stroke-width="1.3"/>
<rect x="420.20" y="51.60" width="4.4" height="4.2" fill="#fff" stroke="#000" stroke-width="1.2"/>
<text x="441" y="56.10" font-size="10.8">Flag Bcl-2-30</text>
<path d="M411,65.40H434" stroke="#000" stroke-width="1.3"/>
<circle cx="422.40" cy="65.40" r="2.2" fill="#fff" stroke="#000" stroke-width="1.2"/>
<text x="441" y="67.80" font-size="10.8">Flag Bcl-2-1</text>
<path d="M411,77.10H434" stroke="#000" stroke-width="1.3"/>
<path d="M422.40,73.50L425.60,77.10L422.40,80.70L419.20,77.10Z" fill="#000"/>
<text x="441" y="79.50" font-size="10.8">Neo-8</text>
</svg>
</body></html>
